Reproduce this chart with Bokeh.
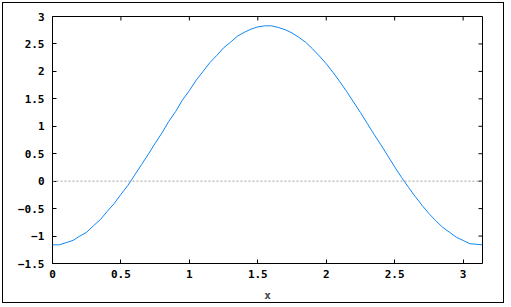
import math
from bokeh.plotting import figure
from bokeh.models import Range1d, LinearAxis, FixedTicker, Span, InlineStyleSheet
from bokeh.embed import file_html
from bokeh.resources import INLINE

# curve values
xs = [0.0, 0.05, 0.1, 0.15, 0.2, 0.25, 0.3, 0.35, 0.4, 0.45, 0.5, 0.55, 0.6, 0.65, 0.7,
      0.75, 0.8, 0.85, 0.9, 0.95, 1.0, 1.05, 1.1, 1.15, 1.2, 1.25, 1.3, 1.35, 1.4, 1.45,
      1.5, 1.55, 1.6, 1.65, 1.7, 1.75, 1.8, 1.85, 1.9, 1.95, 2.0, 2.05, 2.1, 2.15, 2.2,
      2.25, 2.3, 2.35, 2.4, 2.45, 2.5, 2.55, 2.6, 2.65, 2.7, 2.75, 2.8, 2.85, 2.9, 2.95,
      3.0, 3.05, 3.1, 3.1416]
ys = [-1.16, -1.16, -1.12, -1.08, -1.00, -0.93, -0.81, -0.70, -0.55, -0.41, -0.24, -0.08,
      0.11, 0.30, 0.49, 0.69, 0.88, 1.09, 1.27, 1.48, 1.65, 1.84, 2.00, 2.16, 2.29, 2.43,
      2.53, 2.64, 2.71, 2.77, 2.81, 2.83, 2.83, 2.80, 2.76, 2.70, 2.62, 2.53, 2.41, 2.28,
      2.14, 1.98, 1.81, 1.63, 1.44, 1.25, 1.05, 0.85, 0.66, 0.46, 0.26, 0.07, -0.11,
      -0.28, -0.44, -0.59, -0.72, -0.84, -0.93, -1.02, -1.08, -1.14, -1.15, -1.16]
x_ticks = [0, 0.5, 1, 1.5, 2, 2.5, 3]
y_ticks = [-1.5, -1, -0.5, 0, 0.5, 1, 1.5, 2, 2.5, 3]
x_label = "x"

FONT = "DejaVu Sans Mono"
X_MAX = math.pi
Y_MIN, Y_MAX = -1.5, 3

border_css = InlineStyleSheet(css="""
:host { position: relative; }
:host::after {
  content: ""; position: absolute; left: 2px; top: 2px;
  width: 502px; height: 301px; box-sizing: border-box;
  border: 1px solid black; pointer-events: none;
}
""")

p = figure(width=511, height=307, output_backend="svg", toolbar_location=None,
           x_range=Range1d(0, X_MAX), y_range=Range1d(Y_MIN, Y_MAX),
           x_axis_location=None, y_axis_location=None,
           min_border_left=52, min_border_right=29, min_border_top=16, min_border_bottom=44,
           stylesheets=[border_css])
p.grid.visible = False
p.outline_line_color = "black"
p.outline_line_width = 1
p.background_fill_color = "white"
p.border_fill_color = "white"


def style(ax):
    ax.axis_line_color = None
    ax.major_tick_in = 4
    ax.major_tick_out = 0
    ax.major_tick_line_color = "black"
    ax.minor_tick_line_color = None
    ax.major_label_text_font = FONT
    ax.major_label_text_font_style = "bold"
    ax.major_label_text_font_size = "11px"
    ax.major_label_text_color = "black"
    ax.axis_label_text_font = FONT
    ax.axis_label_text_font_style = "bold"
    ax.axis_label_text_font_size = "11px"


bx = LinearAxis(ticker=FixedTicker(ticks=x_ticks), axis_label=x_label)
style(bx)
bx.major_label_standoff = 6
bx.axis_label_standoff = 8
p.add_layout(bx, "below")

ly = LinearAxis(ticker=FixedTicker(ticks=y_ticks))
style(ly)
ly.major_label_standoff = 8
p.add_layout(ly, "left")

# mirrored inward ticks on the top and right frame edges
p.ray(x=x_ticks, y=[Y_MAX] * len(x_ticks), length=4, length_units="screen",
      angle=-math.pi / 2, line_color="black", line_width=1)
p.ray(x=[X_MAX] * len(y_ticks), y=y_ticks, length=4, length_units="screen",
      angle=math.pi, line_color="black", line_width=1)

p.add_layout(Span(location=0, dimension="width", line_color="#a0a0a0",
                  line_width=1, line_dash="2 2"))

p.line(xs, ys, line_color="#0f86f5", line_width=1)

open("out.html", "w").write(file_html(p, INLINE))
